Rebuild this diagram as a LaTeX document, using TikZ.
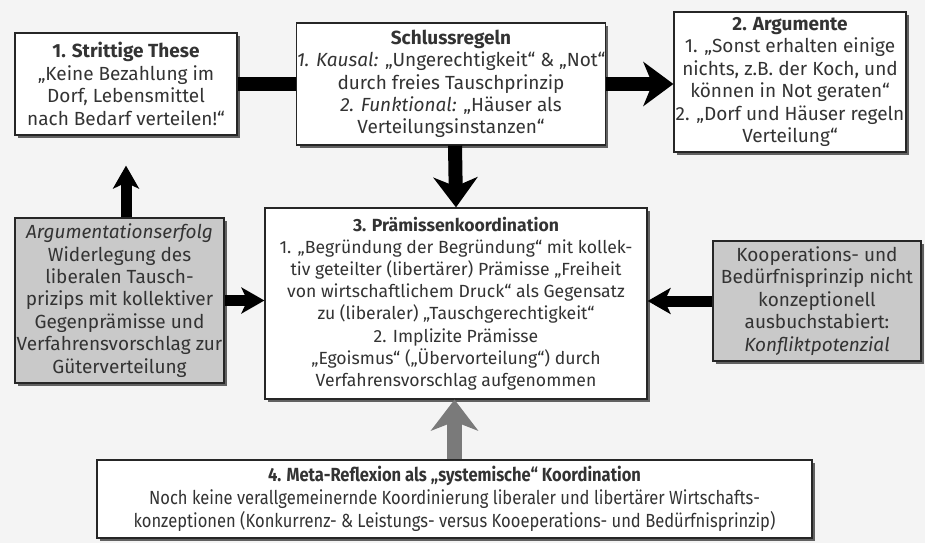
\documentclass[tikz,border=0pt]{standalone}
\usepackage{fontspec}
\setmainfont{Fira Sans}
\newfontfamily\condfont[FakeStretch=0.87]{Fira Sans}
\usetikzlibrary{arrows.meta,shadows}

\definecolor{bggray}{HTML}{F4F4F4}
\definecolor{boxgray}{HTML}{C9C9C9}
\definecolor{txtgray}{HTML}{333333}
\definecolor{arrowgray}{HTML}{7A7A7A}

\tikzset{
  box/.style={draw=black!85, line width=1.2pt, fill=white, text=txtgray,
    align=center, inner sep=0pt,
    drop shadow={shadow xshift=3pt, shadow yshift=-3pt, fill=black, opacity=0.6},
    font=\fontsize{19}{22.4}\selectfont},
  graybox/.style={box, fill=boxgray},
  smallbox/.style={box, font=\fontsize{17.6}{22.2}\selectfont},
  bar/.style={line width=14pt},
  bigarrow/.style={bar, -{Stealth[length=30pt, width=44pt, inset=9pt]}},
  smallarrow/.style={line width=11pt, -{Stealth[length=23pt, width=26pt, inset=6pt]}},
}

\begin{document}
\begin{tikzpicture}[x=1pt, y=-1pt]
    \fill[bggray] (0,0) rectangle (925,543);
    \useasboundingbox (0,0) rectangle (925,543);

    % obere Reihe
    \node[box, minimum width=222pt, minimum height=102pt] (these) at (126,84)
        {\textbf{1. Strittige These}\\„Keine Bezahlung im\\Dorf, Lebensmittel\\nach Bedarf verteilen!“};
    \node[box, minimum width=308pt, minimum height=122pt] (schluss) at (451,84)
        {\textbf{Schlussregeln}\\\textit{1. Kausal:} „Ungerechtigkeit“ \& „Not“\\durch freies Tauschprinzip\\\textit{2. Funktional:} „Häuser als\\Verteilungsinstanzen“};
    \node[box, minimum width=232pt, minimum height=140pt] (arg) at (790,82)
        {\textbf{2. Argumente}\\1. „Sonst erhalten einige\\nichts, z.B. der Koch, und\\können in Not geraten“\\2. „Dorf und Häuser regeln\\Verteilung“};

    % mittlere Reihe
    \node[graybox, minimum width=209pt, minimum height=165pt] (erfolg) at (119.5,300.5)
        {\textit{Argumentationserfolg}\\Widerlegung des\\liberalen Tausch-\\prizips mit kollektiver\\Gegenprämisse und\\Verfahrensvorschlag zur\\Güterverteilung};
    \node[smallbox, minimum width=382pt, minimum height=191pt] (praem) at (456,303.5)
        {\textbf{3. Prämissenkoordination}\\1. „Begründung der Begründung“ mit kollek-\\tiv geteilter (libertärer) Prämisse „Freiheit\\von wirtschaftlichem Druck“ als Gegensatz\\zu (liberaler) „Tauschgerechtigkeit“\\2. Implizite Prämisse\\„Egoismus“ („Übervorteilung“) durch\\Verfahrensvorschlag aufgenommen};
    \node[graybox, minimum width=208pt, minimum height=120pt] (konflikt) at (817,301)
        {Kooperations- und\\Bedürfnisprinzip nicht\\konzeptionell\\ausbuchstabiert:\\\textit{Konfliktpotenzial}};

    % untere Reihe
    \node[box, font=\condfont\fontsize{19}{23}\selectfont, minimum width=715pt, minimum height=78pt] (meta) at (454.5,499)
        {\textbf{4. Meta-Reflexion als „systemische“ Koordination}\\Noch keine verallgemeinernde Koordinierung liberaler und libertärer Wirtschafts-\\konzeptionen (Konkurrenz- \& Leistungs- versus Kooeperations- und Bedürfnisprinzip)};

    % Verbindungen
    \draw[bar] (these.east) -- (schluss.west);
    \draw[bigarrow] (schluss.east) -- (arg.west |- schluss.east);
    \draw[bigarrow] (schluss.south -| praem.north) ++(-1,0) -- (praem.north);
    \draw[smallarrow, shorten >=30pt] (erfolg.north -| these.south) -- (these.south);
    \draw[smallarrow] (erfolg.east) -- (erfolg.east -| praem.west);
    \draw[smallarrow] (konflikt.west) -- (konflikt.west -| praem.east);
    \draw[line width=15pt, arrowgray, -{Stealth[length=31pt, width=47pt, inset=9pt]}] (meta.north) -- (meta.north |- praem.south);
\end{tikzpicture}
\end{document}
